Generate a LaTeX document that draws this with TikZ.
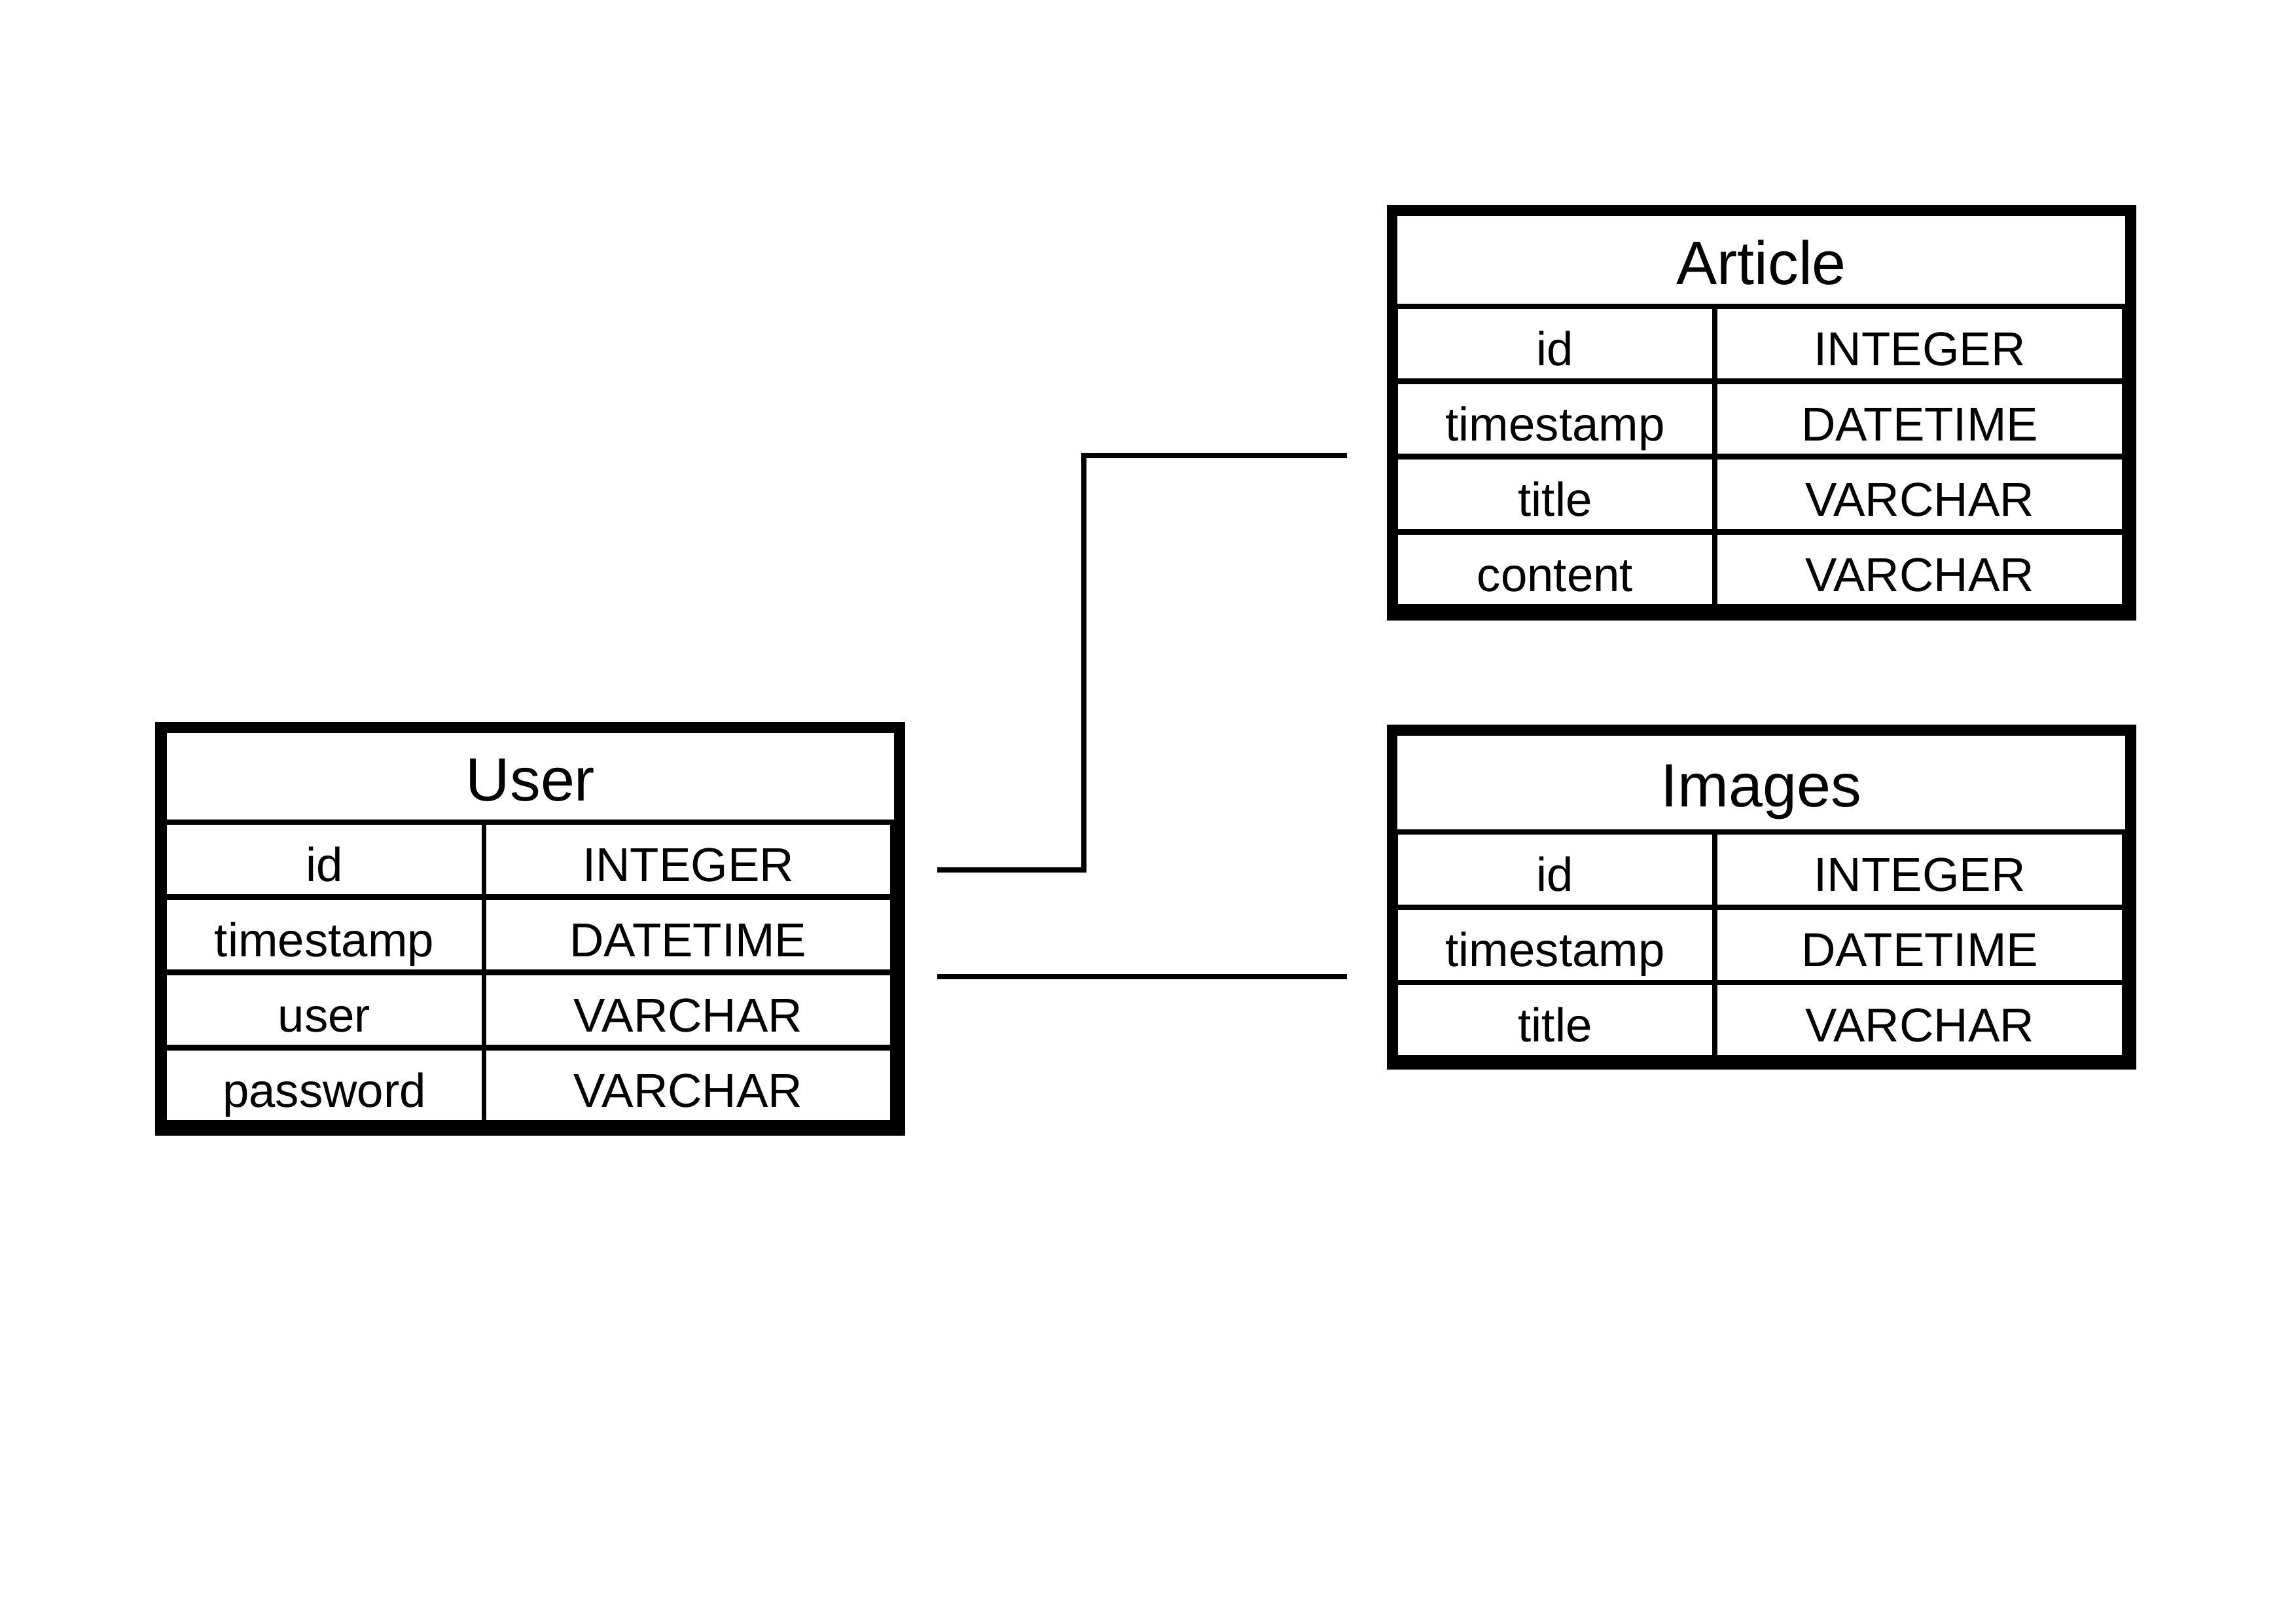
\documentclass[tikz,border=0pt]{standalone}
\usepackage{fontspec}
\setmainfont{Liberation Sans}
\usepackage{tikz}
\usetikzlibrary{positioning, calc}
\usepackage{xcolor}

\begin{document}
\begin{tikzpicture}[
  frame/.style={
    rectangle, fill=black, inner sep=0pt
  },
  head/.style={
    rectangle, fill=white, inner sep=0pt,
    minimum width=9.41cm, text height=20pt, text depth=2pt,
    font=\fontsize{22.5}{27}\selectfont
  },
  keycell/.style={
    rectangle, fill=white, inner sep=0pt,
    minimum width=4.07cm, minimum height=0.9cm,
    text height=17pt, text depth=1pt,
    font=\fontsize{17.5}{21}\selectfont
  },
  typecell/.style={
    rectangle, fill=white, inner sep=0pt,
    minimum width=5.23cm, minimum height=0.9cm,
    text height=17pt, text depth=1pt,
    font=\fontsize{17.5}{21}\selectfont
  },
  link/.style={draw=black, line width=1.9pt},
]

\useasboundingbox (0,0) rectangle (29.7,21);

%% User table
\node[frame, minimum width=9.70cm, minimum height=5.35cm] (user) at (6.858,8.986) {};
\node[head, minimum height=1.12cm] (user-head) at (6.862,10.959) {User};
\foreach \k/\t [count=\i] in {id/INTEGER, timestamp/DATETIME, user/VARCHAR, password/VARCHAR} {
  \node[keycell]  (user-k\i) at (4.195,{9.883-(\i-1)*0.974}) {\k};
  \node[typecell] (user-t\i) at (8.902,{9.883-(\i-1)*0.974}) {\t};
}

%% Article table
\node[frame, minimum width=9.69cm, minimum height=5.38cm] (article) at (22.787,15.662) {};
\node[head, minimum height=1.13cm] (article-head) at (22.783,17.639) {Article};
\foreach \k/\t [count=\i] in {id/INTEGER, timestamp/DATETIME, title/VARCHAR, content/VARCHAR} {
  \node[keycell]  (article-k\i) at (20.116,{16.555-(\i-1)*0.974}) {\k};
  \node[typecell] (article-t\i) at (24.832,{16.555-(\i-1)*0.974}) {\t};
}

%% Images table
\node[frame, minimum width=9.69cm, minimum height=4.46cm] (images) at (22.787,9.397) {};
\node[head, minimum height=1.21cm] (images-head) at (22.783,10.879) {Images};
\foreach \k/\t [count=\i] in {id/INTEGER, timestamp/DATETIME, title/VARCHAR} {
  \node[keycell]  (images-k\i) at (20.116,{9.752-(\i-1)*0.974}) {\k};
  \node[typecell] (images-t\i) at (24.832,{9.752-(\i-1)*0.974}) {\t};
}

%% Relations
\coordinate (user-out1)  at (12.12,9.75);
\coordinate (user-out2)  at (12.12,8.37);
\coordinate (bend)       at (14.02,12.0);
\coordinate (article-in) at (17.42,15.11);
\coordinate (images-in)  at (17.42,8.37);

\draw[link] (user-out1) -| (bend) |- (article-in);
\draw[link] (user-out2) -- (images-in);

\end{tikzpicture}
\end{document}
